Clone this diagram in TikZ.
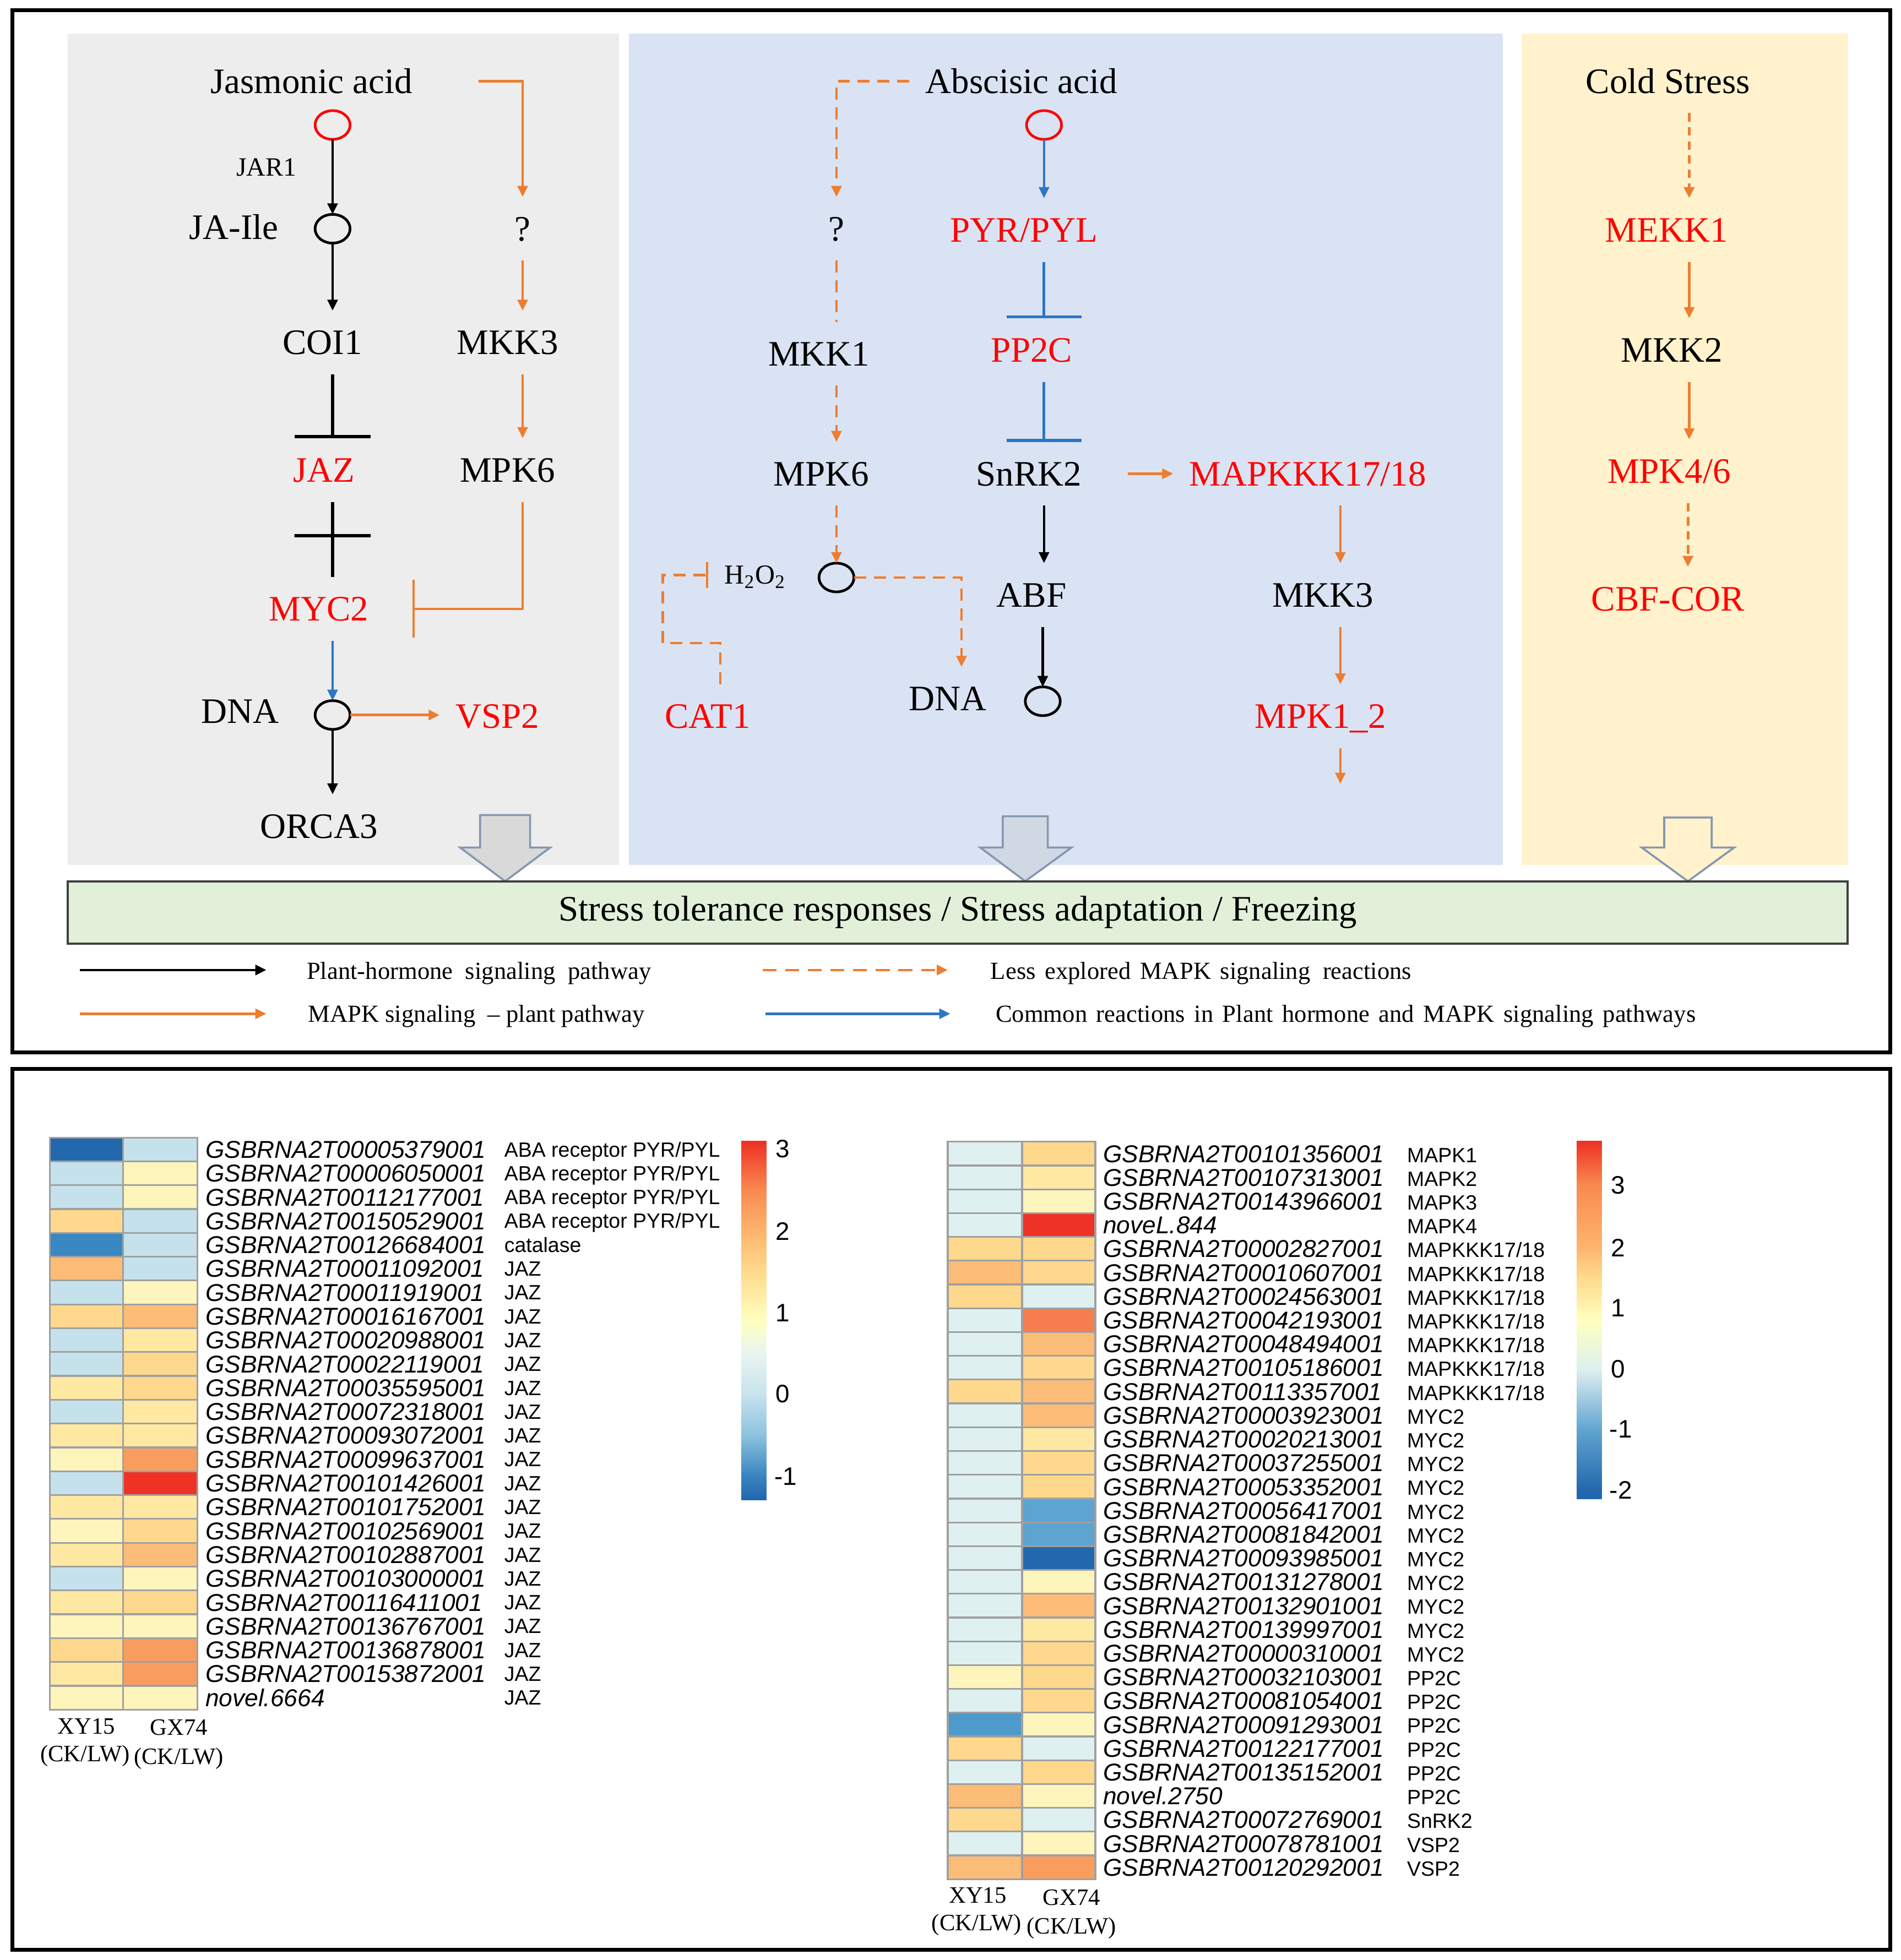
\documentclass[tikz,border=0pt]{standalone}
\usepackage{fontspec}
\setmainfont{Liberation Serif}
\newfontfamily\arialF{Liberation Sans}
\usetikzlibrary{arrows.meta,shapes.geometric}
\newdimen\pxu \pxu=0.02cm
\definecolor{hRed}{HTML}{FF0000}
\definecolor{hOr}{HTML}{ED7D31}
\definecolor{hBlue}{HTML}{2E75C6}
\definecolor{bgGray}{HTML}{EDEDED}
\definecolor{bgBlue}{HTML}{DAE3F3}
\definecolor{bgYel}{HTML}{FFF2CC}
\definecolor{bgGreen}{HTML}{E2F0D9}
\definecolor{greenEdge}{HTML}{404040}
\definecolor{arrStroke}{HTML}{8497B0}
\definecolor{arrFillA}{HTML}{D9D9D9}
\definecolor{arrFillB}{HTML}{D0D8E4}
\definecolor{hgrid}{HTML}{A0A0A0}
\definecolor{hDB}{HTML}{2268AD}
\definecolor{hMB}{HTML}{3A88C2}
\definecolor{hMBb}{HTML}{5DA4D1}
\definecolor{hMBc}{HTML}{4E9ACB}
\definecolor{hLB}{HTML}{C5E2EC}
\definecolor{hLC}{HTML}{DEF1F0}
\definecolor{hPY}{HTML}{FEF5BC}
\definecolor{hY}{HTML}{FEE8A2}
\definecolor{hYO}{HTML}{FDD88D}
\definecolor{hLO}{HTML}{FBBC78}
\definecolor{hO}{HTML}{F99D5E}
\definecolor{hOR}{HTML}{F57D4E}
\definecolor{hR}{HTML}{EE3326}
\definecolor{cbA}{HTML}{2166AC}
\definecolor{cbB}{HTML}{3A85C0}
\definecolor{cbC}{HTML}{8EC3DF}
\definecolor{cbCb}{HTML}{5FA3D0}
\definecolor{cbD}{HTML}{C8E3EE}
\definecolor{cbDc}{HTML}{DDF0F0}
\definecolor{cbE}{HTML}{E9F5EF}
\definecolor{cbF}{HTML}{FFFFBF}
\definecolor{cbG}{HTML}{FEDA8C}
\definecolor{cbH}{HTML}{FDB46D}
\definecolor{cbI}{HTML}{F88A50}
\definecolor{cbJ}{HTML}{EE3024}
\pgfdeclareverticalshading{cbLeft}{100bp}{color(0bp)=(cbA); color(25bp)=(cbA); color(28.4bp)=(cbB); color(34.1bp)=(cbC); color(39.8bp)=(cbD); color(45.5bp)=(cbE); color(50bp)=(cbF); color(56.8bp)=(cbG); color(62.5bp)=(cbH); color(68.2bp)=(cbI); color(75bp)=(cbJ); color(100bp)=(cbJ)}
\pgfdeclareverticalshading{cbRight}{100bp}{color(0bp)=(cbA); color(25.9bp)=(cbA); color(34.5bp)=(cbCb); color(43.1bp)=(cbDc); color(50bp)=(cbF); color(55.9bp)=(cbG); color(60.3bp)=(cbH); color(68.8bp)=(cbI); color(75bp)=(cbJ); color(100bp)=(cbJ)}
\newcommand\fMain{\fontsize{16.3}{18}\selectfont}
\newcommand\fJar{\fontsize{12}{14}\selectfont}
\newcommand\fHtwo{\fontsize{12.5}{14}\selectfont}
\newcommand\fLeg{\fontsize{11.2}{13}\selectfont}
\newcommand\fGene{\arialF\itshape\fontsize{11.1}{13}\selectfont}
\newcommand\fCat{\arialF\fontsize{9.4}{11}\selectfont}
\newcommand\fCol{\fontsize{10.7}{12}\selectfont}
\newcommand\fBar{\arialF\fontsize{11.5}{13}\selectfont}
\newcommand\wsp{\hspace{0.37em}}
\tikzset{
 lbl/.style={font=\fMain, inner sep=0pt, text height=10.8pt, text depth=0pt, outer xsep=13\pxu, outer ysep=16\pxu},
 rlbl/.style={lbl, text=hRed},
 circ/.style={ellipse, draw=black, line width=1.2pt, minimum width=0.56cm, minimum height=0.46cm, inner sep=0pt, outer sep=0pt},
 rcirc/.style={circ, draw=hRed},
 ba/.style={draw=black, line width=1.1pt, ->},
 bL/.style={draw=black, line width=1.5pt},
 bT/.style={draw=black, line width=1.5pt, -{Bar[width=1.22cm]}},
 oa/.style={draw=hOr, line width=1.1pt, ->},
 oL/.style={draw=hOr, line width=1.1pt},
 od/.style={draw=hOr, line width=1.1pt, dash pattern=on 5.5pt off 3.5pt},
 oda/.style={od, ->},
 odc/.style={draw=hOr, line width=1.3pt, dash pattern=on 3.8pt off 2.6pt, ->},
 bla/.style={draw=hBlue, line width=1.1pt, ->},
 blT/.style={draw=hBlue, line width=1.3pt, -{Bar[width=1.2cm]}},
 crossh/.style={draw=black, line width=1.5pt, minimum width=1.22cm, minimum height=0pt, inner sep=0pt, outer sep=0pt},
 barr/.style={draw=arrStroke, line width=0.9pt, line join=miter},
 leg/.style={font=\fLeg, inner sep=0pt, anchor=west, text height=7.4pt, text depth=0pt},
 gene/.style={font=\fGene, inner sep=0pt, anchor=west, text height=7.9pt, text depth=0pt},
 catl/.style={font=\fCat, inner sep=0pt, anchor=west, text height=6.7pt, text depth=0pt},
 colL/.style={font=\fCol, inner sep=0pt, text height=7.1pt, text depth=0pt},
 cbl/.style={font=\fBar, inner sep=0pt, anchor=west, text height=8.2pt, text depth=0pt},
 hcell/.style={draw=hgrid, line width=0.8pt},
}
\begin{document}
\begin{tikzpicture}[x=0.02cm, y=-0.02cm, >={Triangle[length=5pt,width=4.6pt]}]
\useasboundingbox (0,0) rectangle (1520,1568);
\fill[white] (0,0) rectangle (1520,1568);
% ---------- panel backgrounds ----------
\fill[bgGray] (54,27) rectangle (495,692);
\fill[bgBlue] (503,27) rectangle (1202,692);
\fill[bgYel] (1217,27) rectangle (1478,692);
% ---------- block arrows ----------
\filldraw[barr, fill=arrFillA] (384,652) -- (424,652) -- (424,678) -- (440,678) -- (404,705) -- (368,678) -- (384,678) -- cycle;
\filldraw[barr, fill=arrFillB] (802,653) -- (838,653) -- (838,678) -- (857,678) -- (820,705) -- (784,678) -- (802,678) -- cycle;
\filldraw[barr, fill=bgYel] (1331,654) -- (1369,654) -- (1369,678) -- (1387,678) -- (1350,705) -- (1313,678) -- (1331,678) -- cycle;
% ---------- green box ----------
\node[draw=greenEdge, fill=bgGreen, line width=1pt, minimum width=28.48cm, minimum height=1.0cm, inner sep=0pt, font=\fMain] (resp) at (766,730) {Stress tolerance responses / Stress adaptation / Freezing};
% ---------- JA panel ----------
\node[lbl] (jaT) at (249,65) {Jasmonic acid};
\node[rcirc] (jac1) at (266,100) {};
\node[font=\fJar, inner sep=0pt] (jar) at (213,134) {JAR1};
\node[lbl] (jaile) at (187,182) {JA-Ile};
\node[circ] (jac2) at (266,183) {};
\node[lbl] (coi) at (258,274) {COI1};
\node[rlbl] (jaz) at (259,376) {JAZ};
\node[rlbl] (myc) at (255,487) {MYC2};
\node[lbl] (dnaA) at (192,569) {DNA};
\node[circ] (jac3) at (266,572) {};
\node[rlbl] (vsp) at (398,573) {VSP2};
\node[lbl] (orca) at (255,661) {ORCA3};
\node[lbl] (qA) at (418,183) {?};
\node[lbl] (mkk3a) at (406,274) {MKK3};
\node[lbl] (mpk6a) at (406,376) {MPK6};
\draw[ba] (jac1) -- (jac2);
\draw[ba] (jac2) -- (jac2 |- coi.north);
\draw[bT] (jac2 |- coi.south) -- (jac2 |- jaz.north);
\draw[bL] (jac2 |- jaz.south) -- node[crossh, pos=0.45] (jzx) {} (jac2 |- myc.north);
\draw[bla] (jac2 |- myc.south) -- (jac3);
\draw[ba] (jac3) -- (jac3 |- orca.north);
\draw[oa] (jac3) -- (jac3 -| vsp.west);
\draw[oa] ([xshift=40\pxu]jaT.east) -| (qA.north);
\draw[oa] (qA.south) -- (qA.south |- mkk3a.north);
\draw[oa] (qA.south |- mkk3a.south) -- (qA.south |- mpk6a.north);
\draw[oL, -{Bar[width=0.92cm]}] (qA.south |- mpk6a.south) |- ([xshift=22\pxu]myc.east);
% ---------- ABA panel ----------
\node[lbl] (abaT) at (817,65) {Abscisic acid};
\node[rcirc] (abac1) at (835,100) {};
\node[lbl] (qB) at (669,183) {?};
\node[rlbl] (pyr) at (819,184) {PYR/PYL};
\node[lbl] (mkk1) at (655,283) {MKK1};
\node[rlbl] (pp2c) at (825,280) {PP2C};
\node[lbl] (mpk6b) at (657,379) {MPK6};
\node[lbl] (snrk) at (823,379) {SnRK2};
\node[rlbl] (mapkkk) at (1046,379) {MAPKKK17/18};
\node[lbl, font=\fHtwo, text height=8.3pt] (h2o2) at (604,460) {H\textsubscript{2}O\textsubscript{2}};
\node[circ] (abac2) at (669,462) {};
\node[lbl] (abf) at (825,476) {ABF};
\node[lbl] (mkk3b) at (1058,476) {MKK3};
\node[rlbl] (cat1) at (566,573) {CAT1};
\node[lbl] (dnaB) at (758,559) {DNA};
\node[circ] (abac3) at (834,561) {};
\node[rlbl] (mpk12) at (1056,573) {MPK1\_2};
\coordinate (mpkend) at (1072,627);
\draw[oda] (abaT.west) -| (qB.north);
\draw[od] (qB.south) -- (qB.south |- mkk1.north);
\draw[oda] (qB.south |- mkk1.south) -- (qB.south |- mpk6b.north);
\draw[oda] (qB.south |- mpk6b.south) -- (abac2);
\draw[oda] (abac2) -| ([xshift=11\pxu]dnaB.north);
\draw[od, -{Bar[width=0.42cm]}] ([xshift=10\pxu]cat1.north) -- ++(0,-33) -- ++(-46,0) |- (h2o2.west);
\draw[bla] (abac1) -- (abac1 |- pyr.north);
\draw[blT] (abac1 |- pyr.south) -- (abac1 |- pp2c.north);
\draw[blT] (abac1 |- pp2c.south) -- (abac1 |- snrk.north);
\draw[ba] (abac1 |- snrk.south) -- (abac1 |- abf.north);
\draw[ba] (abac3 |- abf.south) -- (abac3);
\draw[oa] ([xshift=24\pxu]snrk.east) -- (mapkkk.west);
\draw[oa] ([xshift=26\pxu]mapkkk.south) -- ([xshift=14\pxu]mkk3b.north);
\draw[oa] ([xshift=14\pxu]mkk3b.south) -- ([xshift=16\pxu]mpk12.north);
\draw[oa] ([xshift=16\pxu]mpk12.south) -- (mpkend);
% ---------- Cold panel ----------
\node[lbl] (cold) at (1334,65) {Cold Stress};
\node[rlbl] (mekk) at (1333,184) {MEKK1};
\node[lbl] (mkk2) at (1337,280) {MKK2};
\node[rlbl] (mpk46) at (1335,377) {MPK4/6};
\node[rlbl] (cbf) at (1334,479) {CBF-COR};
\draw[odc] ([xshift=17\pxu]cold.south) -- ([xshift=18\pxu]mekk.north);
\draw[oa] ([xshift=18\pxu]mekk.south) -- ([xshift=14\pxu]mkk2.north);
\draw[oa] ([xshift=14\pxu]mkk2.south) -- ([xshift=16\pxu]mpk46.north);
\draw[odc] ([xshift=15\pxu]mpk46.south) -- ([xshift=16\pxu]cbf.north);
% ---------- legend ----------
\coordinate (l1a) at (64,776); \coordinate (l1b) at (213,776);
\coordinate (l2a) at (610,776); \coordinate (l2b) at (758,776);
\coordinate (l3a) at (64,811); \coordinate (l3b) at (213,811);
\coordinate (l4a) at (612,811); \coordinate (l4b) at (760,811);
\draw[ba] (l1a) -- (l1b);
\draw[draw=hOr, line width=1.1pt, dash pattern=on 6.3pt off 4pt, ->] (l2a) -- (l2b);
\draw[oa] (l3a) -- (l3b);
\draw[bla] (l4a) -- (l4b);
\node[leg] (lt1) at (245,777) {Plant-hormone\ \ signaling\ \ pathway};
\node[leg] (lt2) at (792,777) {Less\wsp explored\wsp MAPK\wsp signaling\ \ reactions};
\node[leg] (lt3) at (246,811) {MAPK signaling\ \ -- plant pathway};
\node[leg] (lt4) at (796,811) {Common\wsp reactions\wsp in\wsp Plant\wsp hormone\wsp and\wsp MAPK\wsp signaling\wsp pathways};
% ---------- frames ----------
\draw[line width=1.8pt] (10,8) rectangle (1512,842);
\draw[line width=1.8pt] (10,855) rectangle (1512,1560);
% ---------- left heatmap ----------
\foreach \ca/\cb/\g/\c [count=\i from 0] in {
 hDB/hLB/GSBRNA2T00005379001/{ABA receptor PYR/PYL},
 hLB/hPY/GSBRNA2T00006050001/{ABA receptor PYR/PYL},
 hLB/hPY/GSBRNA2T00112177001/{ABA receptor PYR/PYL},
 hYO/hLB/GSBRNA2T00150529001/{ABA receptor PYR/PYL},
 hMB/hLB/GSBRNA2T00126684001/catalase,
 hLO/hLB/GSBRNA2T00011092001/JAZ,
 hLB/hPY/GSBRNA2T00011919001/JAZ,
 hYO/hLO/GSBRNA2T00016167001/JAZ,
 hLB/hY/GSBRNA2T00020988001/JAZ,
 hLB/hYO/GSBRNA2T00022119001/JAZ,
 hY/hYO/GSBRNA2T00035595001/JAZ,
 hLB/hY/GSBRNA2T00072318001/JAZ,
 hY/hY/GSBRNA2T00093072001/JAZ,
 hPY/hO/GSBRNA2T00099637001/JAZ,
 hLB/hR/GSBRNA2T00101426001/JAZ,
 hY/hY/GSBRNA2T00101752001/JAZ,
 hPY/hYO/GSBRNA2T00102569001/JAZ,
 hY/hLO/GSBRNA2T00102887001/JAZ,
 hLB/hPY/GSBRNA2T00103000001/JAZ,
 hY/hYO/GSBRNA2T00116411001/JAZ,
 hPY/hPY/GSBRNA2T00136767001/JAZ,
 hYO/hO/GSBRNA2T00136878001/JAZ,
 hY/hO/GSBRNA2T00153872001/JAZ,
 hPY/hPY/novel.6664/JAZ}{
  \pgfmathsetmacro\yy{910+\i*19.07}
  \filldraw[hcell, fill=\ca] (40,\yy) rectangle (98.5,{\yy+19.07});
  \filldraw[hcell, fill=\cb] (98.5,\yy) rectangle (158,{\yy+19.07});
  \node[gene] (gL\i) at (164,{\yy+9.5}) {\g};
  \node[catl] (cL\i) at (403,{\yy+9.5}) {\c};
}
\shade[shading=cbLeft] (593,913) rectangle (613,1200);
\node[cbl] (bL3) at (620,919) {3};
\node[cbl] (bL2) at (620,985) {2};
\node[cbl] (bL1) at (620,1050) {1};
\node[cbl] (bL0) at (620,1115) {0};
\node[cbl] (bLm1) at (619,1181) {-1};
\node[colL] (xyL) at (69,1381) {XY15};
\node[colL] (ckL1) at (68,1403) {(CK/LW)};
\node[colL] (gxL) at (143,1382) {GX74};
\node[colL] (ckL2) at (143,1405) {(CK/LW)};
% ---------- right heatmap ----------
\foreach \ca/\cb/\g/\c [count=\i from 0] in {
 hLC/hYO/GSBRNA2T00101356001/MAPK1,
 hLC/hY/GSBRNA2T00107313001/MAPK2,
 hLC/hPY/GSBRNA2T00143966001/MAPK3,
 hLC/hR/noveL.844/MAPK4,
 hYO/hYO/GSBRNA2T00002827001/{MAPKKK17/18},
 hLO/hYO/GSBRNA2T00010607001/{MAPKKK17/18},
 hYO/hLC/GSBRNA2T00024563001/{MAPKKK17/18},
 hLC/hOR/GSBRNA2T00042193001/{MAPKKK17/18},
 hLC/hLO/GSBRNA2T00048494001/{MAPKKK17/18},
 hLC/hYO/GSBRNA2T00105186001/{MAPKKK17/18},
 hYO/hLO/GSBRNA2T00113357001/{MAPKKK17/18},
 hLC/hLO/GSBRNA2T00003923001/MYC2,
 hLC/hY/GSBRNA2T00020213001/MYC2,
 hLC/hYO/GSBRNA2T00037255001/MYC2,
 hLC/hYO/GSBRNA2T00053352001/MYC2,
 hLC/hMBb/GSBRNA2T00056417001/MYC2,
 hLC/hMBb/GSBRNA2T00081842001/MYC2,
 hLC/hDB/GSBRNA2T00093985001/MYC2,
 hLC/hPY/GSBRNA2T00131278001/MYC2,
 hLC/hLO/GSBRNA2T00132901001/MYC2,
 hLC/hY/GSBRNA2T00139997001/MYC2,
 hLC/hYO/GSBRNA2T00000310001/MYC2,
 hPY/hYO/GSBRNA2T00032103001/PP2C,
 hLC/hYO/GSBRNA2T00081054001/PP2C,
 hMBc/hPY/GSBRNA2T00091293001/PP2C,
 hYO/hLC/GSBRNA2T00122177001/PP2C,
 hLC/hYO/GSBRNA2T00135152001/PP2C,
 hLO/hPY/novel.2750/PP2C,
 hYO/hLC/GSBRNA2T00072769001/SnRK2,
 hLC/hPY/GSBRNA2T00078781001/VSP2,
 hLO/hO/GSBRNA2T00120292001/VSP2}{
  \pgfmathsetmacro\yy{913.4+\i*19.03}
  \filldraw[hcell, fill=\ca] (758,\yy) rectangle (817.5,{\yy+19.03});
  \filldraw[hcell, fill=\cb] (817.5,\yy) rectangle (876,{\yy+19.03});
  \node[gene] (gR\i) at (882,{\yy+9.5}) {\g};
  \node[catl] (cR\i) at (1125,{\yy+10.5}) {\c};
}
\shade[shading=cbRight] (1261,913) rectangle (1281,1199);
\node[cbl] (bR3) at (1288,948) {3};
\node[cbl] (bR2) at (1288,998) {2};
\node[cbl] (bR1) at (1288,1046) {1};
\node[cbl] (bR0) at (1288,1095) {0};
\node[cbl] (bRm1) at (1287,1143) {-1};
\node[cbl] (bRm2) at (1287,1192) {-2};
\node[colL] (xyR) at (782,1516) {XY15};
\node[colL] (ckR1) at (781,1538) {(CK/LW)};
\node[colL] (gxR) at (857,1518) {GX74};
\node[colL] (ckR2) at (857,1541) {(CK/LW)};
\end{tikzpicture}
\end{document}
